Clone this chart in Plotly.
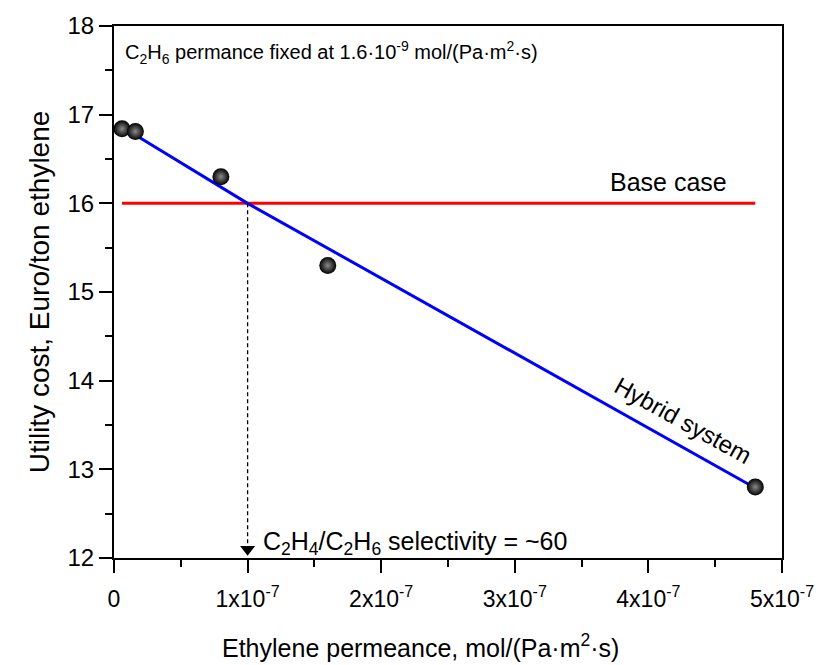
import plotly.graph_objects as go

# Data
perm_x = [6e-9, 1.6e-8, 8e-8, 1.6e-7, 4.8e-7]
cost_y = [16.84, 16.81, 16.30, 15.30, 12.80]

hybrid_x = [1.6e-8, 1e-7, 4.8e-7]
hybrid_y = [16.77, 16.00, 12.79]

base_x = [6e-9, 4.8e-7]
base_y = [16.0, 16.0]

sel_x = [1e-7, 1e-7]
sel_y = [16.0, 12.1]

x_tickvals = [0, 1e-7, 2e-7, 3e-7, 4e-7, 5e-7]
x_ticktext = ["0", "1x10<sup>-7</sup>", "2x10<sup>-7</sup>", "3x10<sup>-7</sup>",
              "4x10<sup>-7</sup>", "5x10<sup>-7</sup>"]
y_tickvals = [12, 13, 14, 15, 16, 17, 18]

FONT = "Liberation Sans, Arial, sans-serif"

fig = go.Figure()
fig.add_trace(go.Scatter(x=base_x, y=base_y, mode="lines",
                         line=dict(color="#ff0000", width=3), showlegend=False))
fig.add_trace(go.Scatter(x=hybrid_x, y=hybrid_y, mode="lines",
                         line=dict(color="#0000ff", width=3), showlegend=False))
fig.add_trace(go.Scatter(x=sel_x, y=sel_y, mode="lines",
                         line=dict(color="black", width=1.3, dash="4px,3px"), showlegend=False))
fig.add_trace(go.Scatter(x=[sel_x[1]], y=[sel_y[1]], mode="markers",
                         marker=dict(symbol="triangle-down-tall" if False else "triangle-down",
                                     size=13, color="black"),
                         showlegend=False))
fig.add_trace(go.Scatter(x=perm_x, y=cost_y, mode="markers",
                         marker=dict(size=17, color="black",
                                     gradient=dict(type="radial", color="#8a8a8a"),
                                     line=dict(width=0)),
                         showlegend=False))

axis_common = dict(showline=True, linecolor="black", linewidth=2, mirror=True,
                   ticks="outside", tickwidth=2, ticklen=13, tickcolor="black",
                   showgrid=False, zeroline=False)

fig.update_xaxes(range=[0, 5e-7], tickvals=x_tickvals, ticktext=x_ticktext,
                 tickfont=dict(family=FONT, size=23, color="black"),
                 ticklabelstandoff=6,
                 minor=dict(ticks="outside", ticklen=7, tickwidth=2, tickcolor="black",
                            dtick=5e-8),
                 **axis_common)
fig.update_yaxes(range=[12, 18], tickvals=y_tickvals,
                 tickfont=dict(family=FONT, size=24, color="black"),
                 minor=dict(ticks="outside", ticklen=7, tickwidth=2, tickcolor="black",
                            dtick=0.5),
                 title=dict(text="Utility cost, Euro/ton ethylene",
                            font=dict(family=FONT, size=28, color="black"), standoff=10),
                 **axis_common)

# x-axis title (placed as annotation: in the reference it sits left of the plot centre)
fig.add_annotation(xref="paper", yref="paper", x=0.459, y=-0.166,
                   xanchor="center", yanchor="middle", showarrow=False,
                   text="Ethylene permeance, mol/(Pa·m<sup>2</sup>·s)",
                   font=dict(family=FONT, size=25, color="black"))

fig.add_annotation(x=6.5e-9, y=17.70, xanchor="left", yanchor="middle", showarrow=False,
                   text="C<sub>2</sub>H<sub>6</sub> permance fixed at 1.6·10<sup>-9</sup> mol/(Pa·m<sup>2</sup>·s)",
                   font=dict(family=FONT, size=20, color="black"))
fig.add_annotation(x=4.15e-7, y=16.24, showarrow=False, text="Base case",
                   font=dict(family=FONT, size=25, color="black"))
fig.add_annotation(x=4.26e-7, y=13.55, showarrow=False, text="Hybrid system",
                   textangle=29, font=dict(family=FONT, size=24, color="black"))
fig.add_annotation(x=1.1e-7, y=12.17, xanchor="left", yanchor="middle", showarrow=False,
                   text="C<sub>2</sub>H<sub>4</sub>/C<sub>2</sub>H<sub>6</sub> selectivity = ~60",
                   font=dict(family=FONT, size=25, color="black"))

fig.update_layout(width=826, height=665, plot_bgcolor="white", paper_bgcolor="white",
                  margin=dict(l=114, r=43, t=23, b=107), showlegend=False)

fig.write_html("out.html")
